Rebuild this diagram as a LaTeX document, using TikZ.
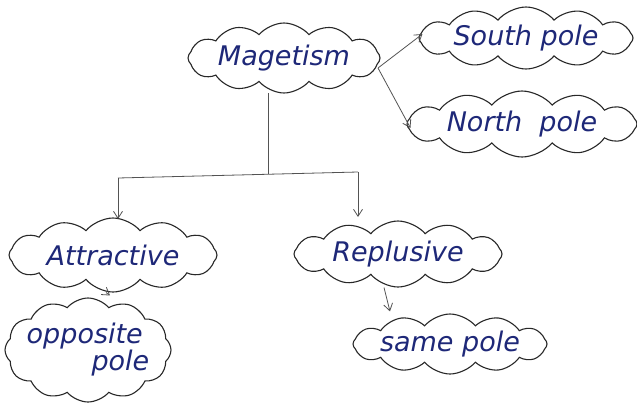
\documentclass[tikz,border=0pt]{standalone}
\usepackage{fontspec}
\setmainfont{DejaVu Sans}
\usetikzlibrary{shapes.symbols,arrows.meta}
\definecolor{ink}{RGB}{30,40,120}
\definecolor{pen}{RGB}{40,40,40}
\begin{document}
\begin{tikzpicture}[x=1pt,y=-1pt,
  bubble/.style={cloud, cloud puffs=12, cloud puff arc=100, cloud ignores aspect,
    draw=pen, line width=1.1pt, inner sep=0pt},
  lbl/.style={font=\itshape\fontsize{27}{27}\selectfont, text=ink, inner sep=0pt, align=left},
  link/.style={draw=pen!80, line width=0.8pt, -{Straight Barb[length=7pt,width=9pt]}},
  plain/.style={draw=pen!80, line width=0.8pt}]
\useasboundingbox (0,0) rectangle (637,410);
\fill[white] (0,0) rectangle (637,410);
\node[bubble, minimum width=192pt, minimum height=70pt] (mag) at (284,58) {};
\node[lbl] (magt) at (mag) {Magetism};
\node[bubble, minimum width=214pt, minimum height=62pt] (south) at (526,38) {};
\node[lbl] (southt) at (south) {South pole};
\node[bubble, minimum width=230pt, minimum height=66pt] (north) at (522,124) {};
\node[lbl] (northt) at (north) {North \ pole};
\node[bubble, minimum width=208pt, minimum height=74pt] (attr) at (113,255) {};
\node[lbl] (attrt) at (attr) {Attractive};
\node[bubble, minimum width=208pt, minimum height=66pt] (rep) at (398,254) {};
\node[lbl] (rept) at (rep) {Replusive};
\node[bubble, minimum width=166pt, minimum height=104pt] (opp) at (88,350) {};
\node[lbl] (oppt) at (opp) {opposite\\[0pt]\hspace*{2.4em}pole};
\node[bubble, minimum width=194pt, minimum height=60pt] (same) at (450,344) {};
\node[lbl] (samet) at (same) {same pole};
\coordinate (mx) at (268,93);
\coordinate (jn) at (268,174);
\coordinate (jl) at (118,178);
\coordinate (jr) at (358,172);
\coordinate (al) at (118,219);
\coordinate (ar) at (358,217);
\coordinate (mo) at (378,68);
\draw[plain] (mx) -- (jn);
\draw[plain] (jl) -- (jr);
\draw[link] (jl) -- (al);
\draw[link] (jr) -- (ar);
\draw[link] (mo) -- ([xshift=4pt,yshift=4pt]south.west);
\draw[link] (mo) -- ([xshift=4pt,yshift=-4pt]north.west);
\draw[link] ([xshift=-7pt]attr.south) -- ([xshift=22pt,yshift=2pt]opp.north);
\draw[link] ([xshift=-14pt]rep.south) -- ([xshift=-60pt,yshift=2pt]same.north);
\end{tikzpicture}
\end{document}
